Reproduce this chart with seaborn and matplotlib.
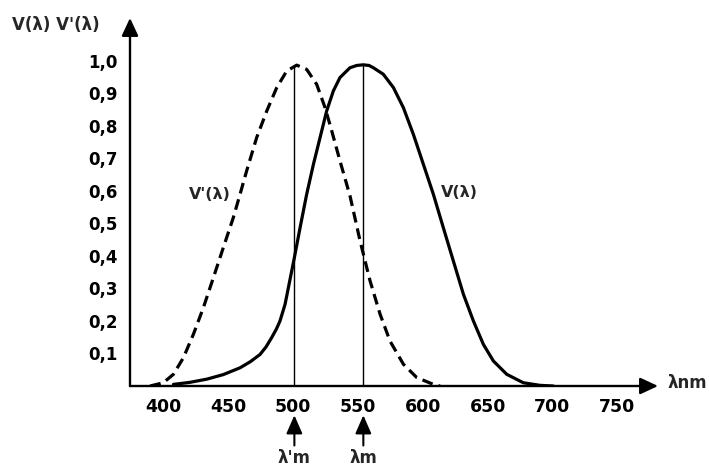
import numpy as np
import pandas as pd
import matplotlib
matplotlib.use("Agg")
import matplotlib.pyplot as plt
import seaborn as sns

# --- data ---
wl_photopic = [407.6, 420.0, 433.3, 446.0, 459.0, 467.0, 474.4, 479.0, 483.4, 487.0, 489.8, 493.7,
               496.3, 500.9, 505.3, 510.4, 515.6, 520.7, 525.8, 531.0, 536.1, 543.8, 549.0,
               554.1, 558.5, 561.8, 569.5, 577.3, 585.0, 592.7, 600.4, 608.1, 615.8, 623.5,
               631.3, 639.0, 646.7, 654.4, 664.7, 677.5, 690.4, 700.7]
v_photopic = [0.005, 0.011, 0.021, 0.035, 0.056, 0.075, 0.097, 0.120, 0.149, 0.175, 0.200, 0.251,
              0.303, 0.395, 0.487, 0.590, 0.682, 0.764, 0.846, 0.908, 0.949, 0.979, 0.986,
              0.988, 0.986, 0.979, 0.959, 0.918, 0.856, 0.774, 0.682, 0.590, 0.487, 0.385,
              0.282, 0.200, 0.128, 0.077, 0.036, 0.010, 0.002, 0.0]

wl_scotopic = [389.6, 399.8, 407.6, 415.3, 423.0, 430.7, 438.4, 446.1, 453.8, 459.0, 464.1, 471.8,
               479.6, 487.3, 495.0, 502.7, 510.4, 518.1, 524.6, 529.7, 536.1, 543.8, 551.6,
               559.3, 567.0, 574.7, 585.0, 595.3, 608.1, 613.3]
v_scotopic = [0.0, 0.010, 0.036, 0.087, 0.159, 0.241, 0.333, 0.426, 0.518, 0.590, 0.662, 0.764,
              0.846, 0.918, 0.969, 0.987, 0.974, 0.928, 0.856, 0.785, 0.692, 0.585, 0.446,
              0.323, 0.221, 0.138, 0.067, 0.026, 0.005, 0.0]

x_ticks = [400, 450, 500, 550, 600, 650, 700, 750]
x_tick_labels = ["400", "450", "500", "550", "600", "650", "700", "750"]
y_ticks = [0.1, 0.2, 0.3, 0.4, 0.5, 0.6, 0.7, 0.8, 0.9, 1.0]
y_tick_labels = ["0,1", "0,2", "0,3", "0,4", "0,5", "0,6", "0,7", "0,8", "0,9", "1,0"]

peak_scotopic = 500.9
peak_photopic = 554.1
peak_value = 0.987

name_photopic = "V(λ)"
name_scotopic = "V'(λ)"

# --- build table ---
df = pd.concat([
    pd.DataFrame({"wl": wl_photopic, "v": v_photopic, "curve": name_photopic}),
    pd.DataFrame({"wl": wl_scotopic, "v": v_scotopic, "curve": name_scotopic}),
], ignore_index=True)

sns.set_theme(style="white")
plt.rcParams['font.family'] = ['DejaVu Sans']
plt.rcParams['font.weight'] = 'bold'

W, H = 709, 467
fig = plt.figure(figsize=(W / 100, H / 100), dpi=100)
ax = fig.add_axes([130 / W, (H - 386) / H, 528 / W, 368 / H])

sns.lineplot(data=df, x="wl", y="v", style="curve",
             style_order=[name_photopic, name_scotopic],
             dashes={name_photopic: "", name_scotopic: (3.4, 1.9)},
             color="black", linewidth=2.3, legend=False, ax=ax, sort=False)
for ln in ax.get_lines():
    ln.set_solid_joinstyle("round")
    ln.set_dash_joinstyle("round")

ax.set_xlim(374.1, 781.4)
ax.set_ylim(0, 1.132)
ax.set_xlabel("")
ax.set_ylabel("")

for s in ax.spines.values():
    s.set_visible(False)

# axes with arrowheads
arrow_kw = dict(arrowstyle="-|>,head_length=0.6,head_width=0.28", lw=1.7, color="black",
                mutation_scale=18, shrinkA=0, shrinkB=0)
ax.annotate("", xy=(1, 0), xytext=(0, 0), xycoords="axes fraction", arrowprops=arrow_kw)
ax.annotate("", xy=(0, 1), xytext=(0, 0), xycoords="axes fraction", arrowprops=arrow_kw)

ax.set_xticks(x_ticks)
ax.set_xticklabels(x_tick_labels)
ax.set_yticks(y_ticks)
ax.set_yticklabels(y_tick_labels)
ax.tick_params(axis="both", direction="out", length=6, width=1.5, color="black",
               labelsize=12.5, labelcolor="black")
ax.tick_params(axis="x", pad=3)
ax.tick_params(axis="y", pad=4, length=5, labelsize=12)
ax.grid(False)

# peak verticals
ax.vlines([peak_scotopic, peak_photopic], 0, peak_value, color="black", lw=1.0)

# arrows under the axis
small_arrow = dict(arrowstyle="-|>,head_length=0.8,head_width=0.35", lw=1.5, color="black",
                   mutation_scale=14, shrinkA=0, shrinkB=0)
for pk, lab in [(peak_scotopic, "λ'm"), (peak_photopic, "λm")]:
    ax.annotate("", xy=(pk, -0.09), xytext=(pk, -0.183), xycoords="data",
                arrowprops=small_arrow, annotation_clip=False)
    ax.text(pk, -0.222, lab, ha="center", va="center", fontsize=12, fontweight="bold",
            clip_on=False)

# curve labels
ax.text(436, 0.588, name_scotopic, ha="center", va="center", fontsize=11.5, fontweight="bold")
ax.text(628, 0.594, name_photopic, ha="center", va="center", fontsize=11.5, fontweight="bold")

# axis labels
ax.text(789, 0.008, "λnm", ha="left", va="center", fontsize=12, fontweight="bold", clip_on=False)
fig.text(12 / W, 1 - 25 / H, "V(λ) V'(λ)", ha="left", va="center", fontsize=12, fontweight="bold")

fig.savefig("out.png", dpi=100)
